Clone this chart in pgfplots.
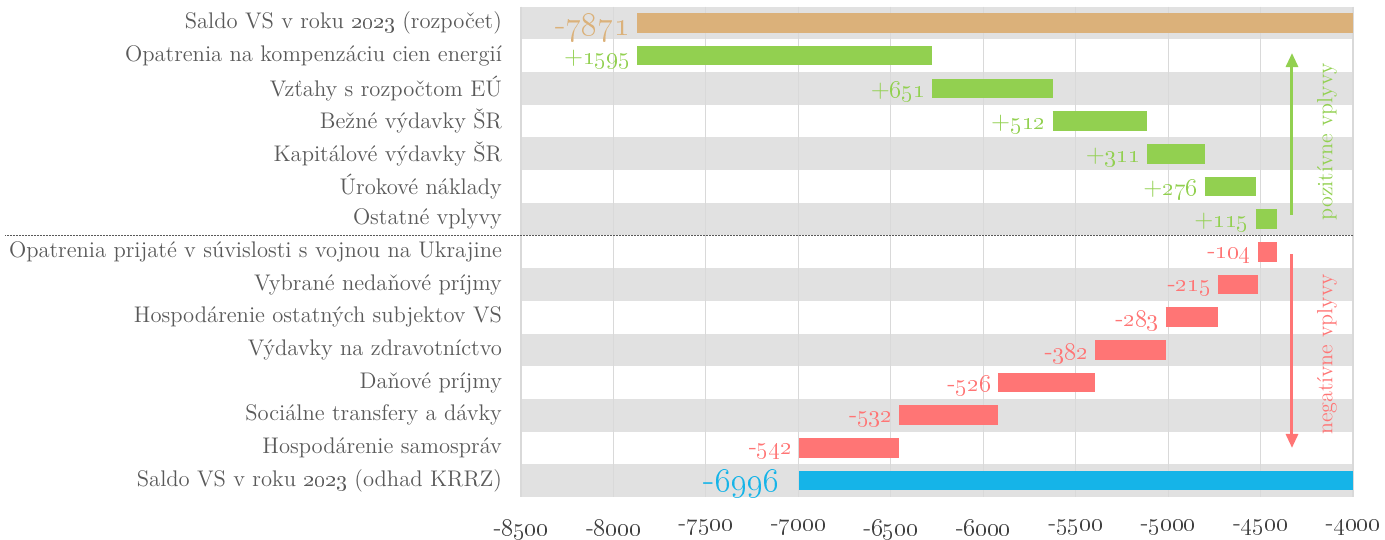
\documentclass[border=0pt]{standalone}
\usepackage{pgfplots}
\pgfplotsset{compat=1.18}
\usetikzlibrary{arrows.meta}
\definecolor{cOr}{RGB}{219,177,122}
\definecolor{cGr}{RGB}{146,208,80}
\definecolor{cRd}{RGB}{255,117,117}
\definecolor{cBl}{RGB}{21,180,232}
\definecolor{cStripe}{RGB}{225,225,225}
\definecolor{cGrid}{RGB}{217,217,217}
\definecolor{cLab}{RGB}{89,89,89}
\definecolor{cTick}{RGB}{64,64,64}
\newcommand{\os}[1]{\oldstylenums{#1}}
\pgfplotsset{bar/.style={line width=9.8pt},
  lab/.style={only marks, mark=text, text mark={}, point meta=explicit symbolic, nodes near coords}}
\begin{document}
\begin{tikzpicture}
\begin{axis}[
  at={(0,0)}, anchor=south west,
  scale only axis, width=416pt, height=245.2pt,
  set layers,
  xmin=-8500, xmax=-4000, ymin=-0.5, ymax=14.5, y dir=reverse,
  clip=false,
  xtick={-8500,-8000,-7500,-7000,-6500,-6000,-5500,-5000,-4500,-4000},
  xticklabels={-\os{8500},-\os{8000},-\os{7500},-\os{7000},-\os{6500},-\os{6000},-\os{5500},-\os{5000},-\os{4500},-\os{4000}},
  ytick={0,1,2,3,4,5,6,7,8,9,10,11,12,13,14},
  yticklabels={Saldo VS v roku \os{2023} (rozpočet),
    Opatrenia na kompenzáciu cien energií,
    Vzťahy s rozpočtom EÚ,
    Bežné výdavky ŠR,
    Kapitálové výdavky ŠR,
    Úrokové náklady,
    Ostatné vplyvy,
    Opatrenia prijaté v súvislosti s vojnou na Ukrajine,
    Vybrané nedaňové príjmy,
    Hospodárenie ostatných subjektov VS,
    Výdavky na zdravotníctvo,
    Daňové príjmy,
    Sociálne transfery a dávky,
    Hospodárenie samospráv,
    Saldo VS v roku \os{2023} (odhad KRRZ)},
  xmajorgrids, grid style={cGrid, line width=0.6pt},
  axis line style={draw=none}, tick style={draw=none},
  yticklabel style={font=\fontsize{11.3}{13}\selectfont, text=cLab, xshift=-6pt},
  xticklabel style={font=\fontsize{12}{14}\selectfont, text=cTick, yshift=-8pt},
]
% background stripes
\begin{pgfonlayer}{axis background}
\fill[cStripe] (axis cs:-8500,-0.5) rectangle (axis cs:-4000,0.5);
\fill[cStripe] (axis cs:-8500,1.5) rectangle (axis cs:-4000,2.5);
\fill[cStripe] (axis cs:-8500,3.5) rectangle (axis cs:-4000,4.5);
\fill[cStripe] (axis cs:-8500,5.5) rectangle (axis cs:-4000,6.5);
\fill[cStripe] (axis cs:-8500,7.5) rectangle (axis cs:-4000,8.5);
\fill[cStripe] (axis cs:-8500,9.5) rectangle (axis cs:-4000,10.5);
\fill[cStripe] (axis cs:-8500,11.5) rectangle (axis cs:-4000,12.5);
\fill[cStripe] (axis cs:-8500,13.5) rectangle (axis cs:-4000,14.5);
\end{pgfonlayer}

% bars: (left end) -- (right end)
\addplot[bar, cOr] coordinates {(-7871,0) (-4000,0)};
\addplot[bar, cGr] coordinates {(-7871,1) (-6276,1)};
\addplot[bar, cGr] coordinates {(-6276,2) (-5625,2)};
\addplot[bar, cGr] coordinates {(-5625,3) (-5113,3)};
\addplot[bar, cGr] coordinates {(-5113,4) (-4802,4)};
\addplot[bar, cGr] coordinates {(-4802,5) (-4526,5)};
\addplot[bar, cGr] coordinates {(-4526,6) (-4411,6)};
\addplot[bar, cRd] coordinates {(-4515,7) (-4411,7)};
\addplot[bar, cRd] coordinates {(-4730,8) (-4515,8)};
\addplot[bar, cRd] coordinates {(-5013,9) (-4730,9)};
\addplot[bar, cRd] coordinates {(-5395,10) (-5013,10)};
\addplot[bar, cRd] coordinates {(-5921,11) (-5395,11)};
\addplot[bar, cRd] coordinates {(-6453,12) (-5921,12)};
\addplot[bar, cRd] coordinates {(-6995,13) (-6453,13)};
\addplot[bar, cBl] coordinates {(-6996,14) (-4000,14)};

% value labels at the left ends
\addplot[lab, every node near coord/.append style={anchor=east, text=cOr, font=\fontsize{17}{19}\selectfont, yshift=-2.5pt}]
 coordinates {(-7871,0) [-\os{7871}]};
\addplot[lab, every node near coord/.append style={anchor=east, text=cBl, font=\fontsize{18.5}{20}\selectfont, yshift=-1.5pt, xshift=-6pt}]
 coordinates {(-6996,14) [-\os{6996}]};
\addplot[lab, every node near coord/.append style={anchor=east, text=cGr, font=\fontsize{12.5}{14}\selectfont, yshift=-2pt}]
 coordinates {(-7871,1) [+\os{1595}] (-6276,2) [+\os{651}] (-5625,3) [+\os{512}] (-5113,4) [+\os{311}] (-4802,5) [+\os{276}] (-4526,6) [+\os{115}]};
\addplot[lab, every node near coord/.append style={anchor=east, text=cRd, font=\fontsize{12.5}{14}\selectfont, yshift=-2pt}]
 coordinates {(-4515,7) [-\os{104}] (-4730,8) [-\os{215}] (-5013,9) [-\os{283}] (-5395,10) [-\os{382}] (-5921,11) [-\os{526}] (-6453,12) [-\os{532}] (-6995,13) [-\os{542}]};

% separator
\draw[cLab, line width=0.8pt, dash pattern=on 0.8pt off 0.7pt] (axis cs:-4000,6.5) -- ([xshift=-258pt]axis cs:-8500,6.5);
% arrows
\draw[cGr, line width=1.5pt, -{Triangle[width=6pt,length=7pt]}] (axis cs:-4330,5.87) -- (axis cs:-4330,0.92);
\node[rotate=90, text=cGr, font=\fontsize{11}{13}\selectfont] at (axis cs:-4141,3.63) {pozitívne vplyvy};
\draw[cRd, line width=1.5pt, -{Triangle[width=6pt,length=7pt]}] (axis cs:-4330,7.07) -- (axis cs:-4330,13.0);
\node[rotate=90, text=cRd, font=\fontsize{11}{13}\selectfont] at (axis cs:-4141,10.14) {negatívne vplyvy};
\end{axis}
\pgfresetboundingbox
\path[use as bounding box] (-260.5pt,-21.5pt) rectangle (432pt,248.5pt);
\end{tikzpicture}
\end{document}
